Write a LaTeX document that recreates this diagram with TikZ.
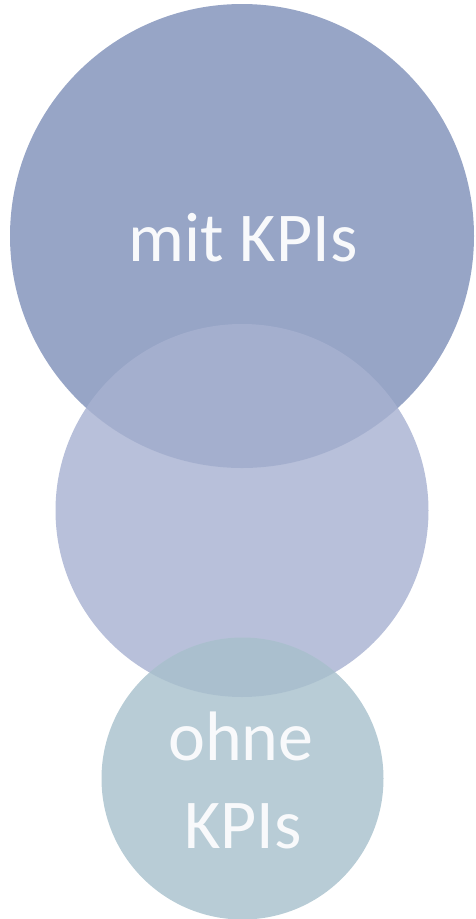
\documentclass[tikz,border=0pt]{standalone}
\usepackage{fontspec}
\setmainfont{Carlito}
\definecolor{bigc}{RGB}{151,165,198}
\definecolor{midc}{RGB}{168,178,209}
\definecolor{lowc}{RGB}{167,192,204}
\definecolor{txtc}{RGB}{248,249,251}
\tikzset{
  disc/.style={circle, inner sep=0pt, minimum size=#1, draw=none},
  label70/.style={text=txtc, font=\fontsize{70}{84}\selectfont, anchor=base, inner sep=0pt}
}
\begin{document}
\begin{tikzpicture}[x=1pt,y=-1pt]
\useasboundingbox (0,0) rectangle (475,919);
\node[disc=464pt, fill=bigc] (big) at (242,236) {};
\node[disc=373pt, fill=midc, fill opacity=0.81] (mid) at (242,510.5) {};
\node[disc=282pt, fill=lowc, fill opacity=0.81] (low) at (242.5,778.5) {};
\node[label70] (mit) at (243,261) {mit KPIs};
\node[label70] (ohne) at (241,760) {ohne};
\node[label70] (kpis) at (243,848) {KPIs};
\end{tikzpicture}
\end{document}
